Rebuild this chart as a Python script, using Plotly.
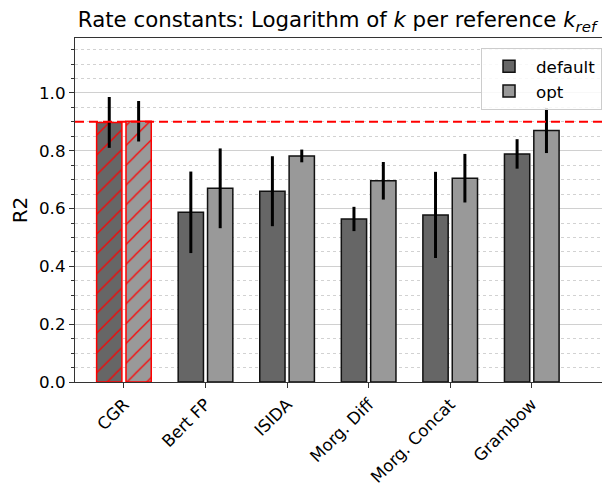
import plotly.graph_objects as go

categories = ["CGR", "Bert FP", "ISIDA", "Morg. Diff", "Morg. Concat", "Grambow"]
default_vals = [0.898, 0.587, 0.660, 0.564, 0.578, 0.789]
default_err = [0.088, 0.141, 0.121, 0.042, 0.149, 0.051]
opt_vals = [0.902, 0.670, 0.782, 0.696, 0.705, 0.870]
opt_err = [0.070, 0.138, 0.022, 0.065, 0.084, 0.078]
reference_line = 0.9
series_names = ["default", "opt"]
series_colors = ["#666666", "#999999"]

idx = list(range(len(categories)))
off = 0.18
width = 0.31

def style(base_color):
    hatch = ["/" if c == "CGR" else "" for c in categories]
    edge = ["red" if c == "CGR" else "#111111" for c in categories]
    return dict(
        color=base_color,
        line=dict(color=edge, width=1.5),
        pattern=dict(shape=hatch, fgcolor="red", bgcolor=base_color,
                     fillmode="overlay", fgopacity=1, size=14, solidity=0.09),
    )

fig = go.Figure()
for vals, errs, name, col, sign in [(default_vals, default_err, series_names[0], series_colors[0], -1),
                                    (opt_vals, opt_err, series_names[1], series_colors[1], 1)]:
    fig.add_trace(go.Bar(
        x=[i + sign * off for i in idx], y=vals, width=width, name=name,
        marker=style(col), showlegend=False,
        error_y=dict(type="data", array=errs, color="black", thickness=3, width=0),
    ))
# legend entries (plain patches)
for name, col in zip(series_names, series_colors):
    fig.add_trace(go.Bar(x=[None], y=[None], name=name,
                         marker=dict(color=col, line=dict(color="#111111", width=1.5))))

fig.add_shape(type="line", xref="paper", yref="y", x0=0, x1=1,
              y0=reference_line, y1=reference_line,
              line=dict(color="red", width=2, dash="9px,5px"), layer="above")

font = "DejaVu Sans, Arial, sans-serif"
fig.update_layout(
    width=602, height=481,
    margin=dict(l=67, r=4, t=30, b=107, autoexpand=False),
    paper_bgcolor="white", plot_bgcolor="white",
    font=dict(family=font, size=16.7, color="black"),
    title=dict(text="Rate constants: Logarithm of <i>k</i> per reference <i>k</i><sub><i>ref</i></sub>",
               x=0.5465, xanchor="center", y=0.975, yanchor="middle",
               font=dict(size=21.3, family=font)),
    showlegend=True,
    legend=dict(x=0.9925, xanchor="right", y=0.971, yanchor="top",
                bgcolor="rgba(255,255,255,0.85)", bordercolor="#cccccc", borderwidth=1,
                font=dict(size=16.7), itemwidth=44, tracegroupgap=0),
    barmode="overlay",
)
fig.update_xaxes(
    range=[-0.6, 5.91], tickmode="array", tickvals=idx, ticktext=categories,
    tickangle=-45, ticks="outside", ticklen=5, tickcolor="#333333",
    showline=True, linecolor="#333333", linewidth=1.2, mirror=True,
    showgrid=False, zeroline=False, automargin=False,
)
fig.update_yaxes(
    range=[0, 1.19], tick0=0, dtick=0.2, tickformat=".1f",
    ticks="outside", ticklen=5, tickcolor="#333333",
    showline=True, linecolor="#333333", linewidth=1.2, mirror=True,
    showgrid=True, gridcolor="#d0d0d0", gridwidth=1, zeroline=False,
    minor=dict(dtick=0.05, ticks="outside", ticklen=3, tickcolor="#333333",
               showgrid=True, gridcolor="#d2d2d2", griddash="dot", gridwidth=1),
    title=dict(text="R2", standoff=10), automargin=False,
)

fig.write_html("out.html")
